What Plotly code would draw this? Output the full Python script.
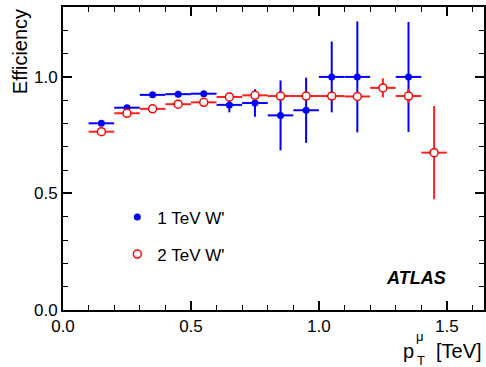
import plotly.graph_objects as go

# Data
bin_centers_1tev = [0.15, 0.25, 0.35, 0.45, 0.55, 0.65, 0.75, 0.85, 0.95, 1.05, 1.15, 1.35]
eff_1tev = [0.801, 0.868, 0.923, 0.926, 0.928, 0.880, 0.888, 0.835, 0.857, 1.0, 1.0, 1.0]
err_1tev = [0.008, 0.008, 0.008, 0.008, 0.008, 0.032, 0.059, 0.15, 0.14, 0.152, 0.238, 0.236]

bin_centers_2tev = [0.15, 0.25, 0.35, 0.45, 0.55, 0.65, 0.75, 0.85, 0.95, 1.05, 1.15, 1.25, 1.35, 1.45]
eff_2tev = [0.765, 0.844, 0.863, 0.883, 0.891, 0.914, 0.921, 0.918, 0.918, 0.918, 0.916, 0.953, 0.918, 0.675]
err_2tev = [0.005, 0.005, 0.005, 0.005, 0.006, 0.012, 0.01, 0.01, 0.01, 0.01, 0.012, 0.041, 0.03, 0.2]

half_bin = 0.05

FONT = "Liberation Sans, Arial, sans-serif"

fig = go.Figure()
fig.add_trace(go.Scatter(
    x=bin_centers_1tev, y=eff_1tev, mode="markers", name="1 TeV W'",
    legendgroup="a",
    marker=dict(color="#0000ff", size=7, symbol="circle"),
    error_x=dict(type="constant", value=half_bin, color="#0000ff", thickness=2, width=0),
    error_y=dict(type="data", array=err_1tev, color="#0000ff", thickness=2, width=0),
))
fig.add_trace(go.Scatter(
    x=bin_centers_2tev, y=eff_2tev, mode="markers", name="2 TeV W'",
    legendgroup="b",
    marker=dict(color="white", size=8, symbol="circle", line=dict(color="#ff0000", width=1.5)),
    error_x=dict(type="constant", value=half_bin, color="#ff2020", thickness=2, width=0),
    error_y=dict(type="data", array=err_2tev, color="#ff2020", thickness=2, width=0),
))

axis_common = dict(
    showline=True, linecolor="black", linewidth=2, mirror="ticks",
    ticks="inside", ticklen=9, tickwidth=1.5, tickcolor="black",
    showgrid=False, zeroline=False,
    tickfont=dict(family=FONT, size=17, color="black"),
    tickformat=".1f", dtick=0.5, tick0=0,
    minor=dict(ticks="inside", ticklen=5, tickwidth=1, tickcolor="black", dtick=0.1, showgrid=False),
)

fig.update_layout(
    width=486, height=367,
    margin=dict(l=63, r=2, t=7, b=57, autoexpand=False),
    plot_bgcolor="white", paper_bgcolor="white",
    xaxis=dict(range=[0, 1.645], **axis_common),
    yaxis=dict(range=[0, 1.30], **axis_common),
    showlegend=True,
    legend=dict(x=0.129, y=0.365, xanchor="left", yanchor="top",
                font=dict(family=FONT, size=17, color="black"),
                bgcolor="rgba(0,0,0,0)", tracegroupgap=12),
    font=dict(family=FONT, color="black"),
)

fig.add_annotation(xref="paper", yref="paper", x=-0.103, y=1.0, xanchor="center", yanchor="top",
                   text="Efficiency", textangle=-90, showarrow=False,
                   font=dict(family=FONT, size=20, color="black"))
fig.add_annotation(xref="paper", yref="paper", x=0.838, y=0.106, xanchor="center", yanchor="middle",
                   text="<b><i>ATLAS</i></b>", showarrow=False,
                   font=dict(family=FONT, size=18, color="black"))
# x-axis title: p_T^mu [TeV]
fig.add_annotation(xref="paper", yref="paper", x=1.0, y=-0.136, xanchor="right", yanchor="middle",
                   text="[TeV]", showarrow=False,
                   font=dict(family=FONT, size=20, color="black"))
fig.add_annotation(xref="paper", yref="paper", x=0.838, y=-0.136, xanchor="right", yanchor="middle",
                   text="p", showarrow=False,
                   font=dict(family=FONT, size=20, color="black"))
fig.add_annotation(xref="paper", yref="paper", x=0.834, y=-0.086, xanchor="left", yanchor="middle",
                   text="μ", showarrow=False,
                   font=dict(family=FONT, size=13, color="black"))
fig.add_annotation(xref="paper", yref="paper", x=0.836, y=-0.166, xanchor="left", yanchor="middle",
                   text="T", showarrow=False,
                   font=dict(family=FONT, size=13, color="black"))

fig.write_html("out.html", config={"displayModeBar": False},
               post_script="document.body.style.margin='0';document.body.style.overflow='hidden';")
